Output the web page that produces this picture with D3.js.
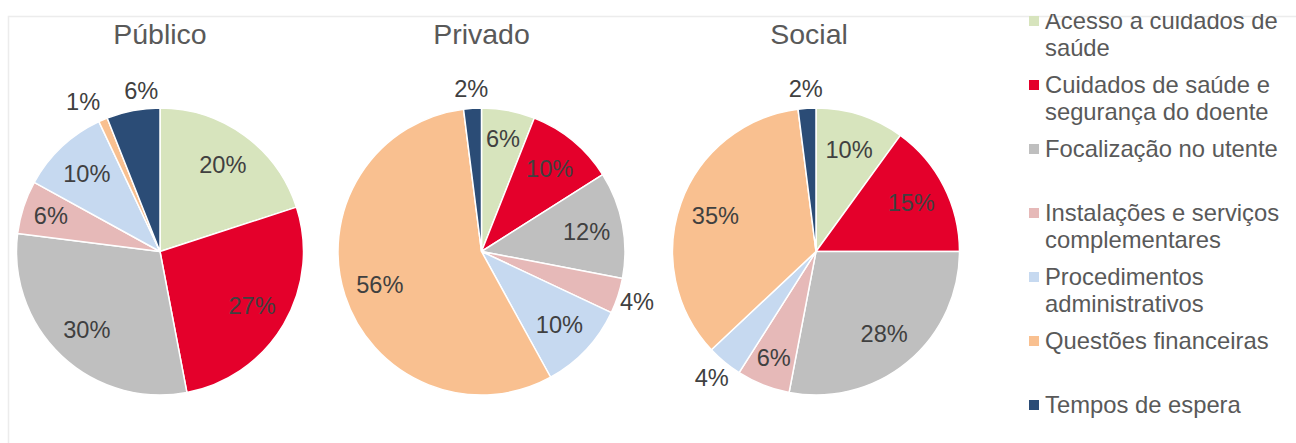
<!DOCTYPE html>
<html>
<head>
<meta charset="utf-8">
<script src="https://cdn.jsdelivr.net/npm/d3@7"></script>
<style>
  html, body { margin: 0; padding: 0; background: #ffffff; }
  svg { display: block; font-family: "Liberation Sans", Arial, sans-serif; }
</style>
</head>
<body>
<svg id="chart" width="1296" height="443"></svg>
<script>
// ---- data ----
const categories = [
  "Acesso a cuidados de saúde",
  "Cuidados de saúde e segurança do doente",
  "Focalização no utente",
  "Instalações e serviços complementares",
  "Procedimentos administrativos",
  "Questões financeiras",
  "Tempos de espera"
];
const colors = ["#d7e4bd", "#e4002b", "#bfbfbf", "#e6b9b8", "#c6d9f0", "#f9c090", "#2b4c76"];
const chartTitles = ["Público", "Privado", "Social"];
const publicoValues = [20, 27, 30, 6, 10, 1, 6];
const privadoValues = [6, 10, 12, 4, 10, 56, 2];
const socialValues  = [10, 15, 28, 6, 4, 35, 2];

// ---- layout ----
const svg = d3.select("#chart");
const W = 1296, H = 443;
const radius = 143.5;
const cy = 251.5;
const pieCx = [160, 481.5, 816];
const titleCx = [160, 481.5, 809];
const series = [publicoValues, privadoValues, socialValues];
const labelSize = 23.6;

// faint chart border
svg.append("path")
  .attr("d", `M8.5,${H} L8.5,16.5 L${W},16.5`)
  .attr("fill", "none")
  .attr("stroke", "#ececec")
  .attr("stroke-width", 1.5);

const color = d3.scaleOrdinal().domain(categories).range(colors);
const pie = d3.pie().sort(null).value(d => d.value);
const arc = d3.arc().innerRadius(0).outerRadius(radius);

series.forEach((vals, si) => {
  const data = categories.map((c, i) => ({ cat: c, value: vals[i] }));
  const arcs = pie(data);
  const g = svg.append("g").attr("transform", `translate(${pieCx[si]},${cy})`);

  g.selectAll("path.slice")
    .data(arcs)
    .join("path")
    .attr("class", "slice")
    .attr("d", arc)
    .attr("fill", d => color(d.data.cat))
    .attr("stroke", "#ffffff")
    .attr("stroke-width", 1.5)
    .attr("stroke-linejoin", "round");

  const n = vals.length;
  const labels = arcs.map((d, i) => {
    const v = d.data.value;
    const prev = vals[(i - 1 + n) % n], next = vals[(i + 1) % n];
    const outside = v < 5 || (v < 8 && (prev < 2 || next < 2));
    const mid = (d.startAngle + d.endAngle) / 2;
    let rr;
    if (outside) rr = radius + 20;
    else if (v <= 6) rr = radius * 0.8;
    else rr = radius * 0.745;
    return { text: Math.round(v) + "%", x: Math.sin(mid) * rr, y: -Math.cos(mid) * rr, outside };
  });

  const texts = g.selectAll("text.lbl")
    .data(labels)
    .join("text")
    .attr("class", "lbl")
    .attr("text-anchor", "middle")
    .attr("dy", "0.35em")
    .attr("font-size", labelSize)
    .attr("fill", "#404040")
    .text(d => d.text);
  texts.each(function(d) { d.w = this.getComputedTextLength(); });

  // spread overlapping outside labels horizontally
  const outs = labels.filter(l => l.outside);
  for (let a = 0; a < outs.length; a++) {
    for (let b = a + 1; b < outs.length; b++) {
      const A = outs[a], B = outs[b];
      if (Math.abs(A.y - B.y) < labelSize * 1.2) {
        const minD = (A.w + B.w) / 2 + 24;
        const dx = B.x - A.x;
        if (Math.abs(dx) < minD) {
          const push = (minD - Math.abs(dx)) / 2;
          const s = dx >= 0 ? 1 : -1;
          A.x -= s * push; B.x += s * push;
        }
      }
    }
  }
  texts.attr("x", d => d.x).attr("y", d => d.y);

  svg.append("text")
    .attr("x", titleCx[si])
    .attr("y", 44)
    .attr("text-anchor", "middle")
    .attr("font-size", 28.5)
    .attr("fill", "#595959")
    .text(chartTitles[si]);
});

// ---- legend ----
svg.append("defs").append("clipPath").attr("id", "legclip")
  .append("rect").attr("x", 990).attr("y", 14).attr("width", 310).attr("height", 430);

const leg = svg.append("g").attr("clip-path", "url(#legclip)");
const legX = 1029, textX = 1045, legTop = 21, legStep = 64, lineH = 26.5, maxW = 248;

categories.forEach((c, i) => {
  const yc = legTop + legStep * i;
  leg.append("rect")
    .attr("x", legX).attr("y", yc - 5)
    .attr("width", 10).attr("height", 10)
    .attr("fill", color(c));
  const t = leg.append("text")
    .attr("font-size", 23.8)
    .attr("fill", "#595959");
  const words = c.split(" ");
  let lines = [], cur = "";
  const probe = leg.append("text").attr("font-size", 23.8).attr("visibility", "hidden");
  words.forEach(w => {
    const test = cur ? cur + " " + w : w;
    probe.text(test);
    if (probe.node().getComputedTextLength() > maxW && cur) {
      lines.push(cur); cur = w;
    } else cur = test;
  });
  lines.push(cur);
  probe.remove();
  lines.forEach((ln, li) => {
    t.append("tspan")
      .attr("x", textX)
      .attr("y", yc + li * lineH)
      .attr("dy", "0.35em")
      .text(ln);
  });
});
</script>
</body>
</html>
